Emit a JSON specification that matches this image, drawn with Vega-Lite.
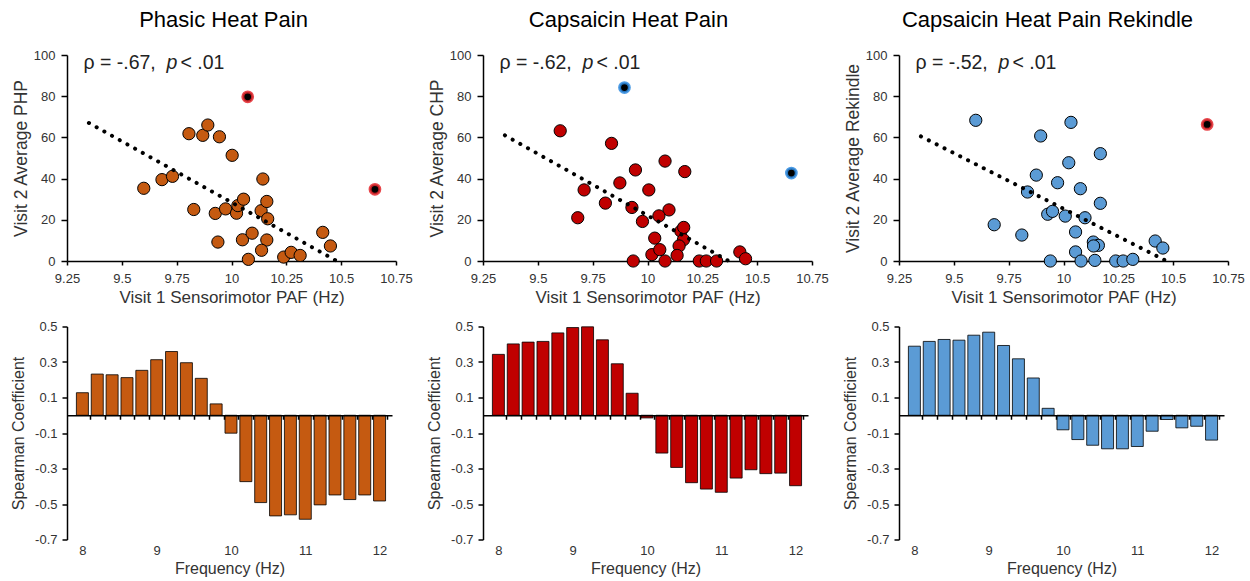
{
  "$schema": "https://vega.github.io/schema/vega-lite/v6.json",
  "background": "white",
  "padding": {"left": 10, "top": 8, "right": 5, "bottom": 5},
  "bounds": "flush",
  "columns": 3,
  "spacing": {"row": 65.5, "column": 87},
  "config": {
    "font": "Liberation Sans",
    "view": {"stroke": null},
    "axis": {"grid": false, "domainColor": "#000", "domainWidth": 1.5, "tickColor": "#000", "tickWidth": 1.5, "labelColor": "#333", "labelFontSize": 13, "titleColor": "#333", "titleFontWeight": "normal", "labelFlush": false, "labelOverlap": false},
    "title": {"fontSize": 22, "fontWeight": "normal", "color": "#000", "frame": "group", "anchor": "middle", "baseline": "alphabetic", "offset": 17.5}
  },
  "datasets": {
    "php": [
      {"paf": 9.60, "v": 35.3}, {"paf": 9.683, "v": 39.5}, {"paf": 9.731, "v": 41.1}, {"paf": 9.806, "v": 61.8}, {"paf": 9.869, "v": 61.0},
      {"paf": 9.892, "v": 66.0}, {"paf": 9.945, "v": 60.3}, {"paf": 10.003, "v": 51.3}, {"paf": 9.828, "v": 25.0}, {"paf": 9.926, "v": 23.1},
      {"paf": 9.938, "v": 9.2}, {"paf": 9.973, "v": 25.3}, {"paf": 10.023, "v": 23.2}, {"paf": 10.029, "v": 26.9}, {"paf": 10.055, "v": 30.0},
      {"paf": 10.050, "v": 10.3}, {"paf": 10.094, "v": 13.5}, {"paf": 10.077, "v": 0.8}, {"paf": 10.143, "v": 39.8}, {"paf": 10.135, "v": 24.4},
      {"paf": 10.161, "v": 28.9}, {"paf": 10.165, "v": 20.5}, {"paf": 10.161, "v": 10.2}, {"paf": 10.137, "v": 5.2}, {"paf": 10.238, "v": 1.9},
      {"paf": 10.272, "v": 4.2}, {"paf": 10.313, "v": 2.7}, {"paf": 10.416, "v": 13.9}, {"paf": 10.451, "v": 7.3}
    ],
    "php_out": [{"paf": 10.074, "v": 79.7}, {"paf": 10.654, "v": 34.8}],
    "php_fit": [{"paf": 9.35, "v": 67}, {"paf": 10.48, "v": 0}],
    "chp": [
      {"paf": 9.602, "v": 63.2}, {"paf": 9.836, "v": 57.1}, {"paf": 9.682, "v": 21.0}, {"paf": 9.711, "v": 34.5}, {"paf": 9.808, "v": 28.1},
      {"paf": 9.874, "v": 37.9}, {"paf": 9.945, "v": 44.2}, {"paf": 9.929, "v": 26.0}, {"paf": 9.977, "v": 19.2}, {"paf": 10.006, "v": 34.5},
      {"paf": 10.080, "v": 48.5}, {"paf": 10.098, "v": 24.8}, {"paf": 10.052, "v": 21.9}, {"paf": 10.033, "v": 11.1}, {"paf": 10.020, "v": 3.1},
      {"paf": 10.056, "v": 5.5}, {"paf": 9.935, "v": 0}, {"paf": 10.080, "v": 0}, {"paf": 10.170, "v": 43.4}, {"paf": 10.152, "v": 14.5},
      {"paf": 10.165, "v": 16.3}, {"paf": 10.164, "v": 10.3}, {"paf": 10.144, "v": 7.3}, {"paf": 10.135, "v": 2.7}, {"paf": 10.236, "v": 0},
      {"paf": 10.268, "v": 0}, {"paf": 10.315, "v": 0}, {"paf": 10.421, "v": 4.4}, {"paf": 10.447, "v": 1.1}
    ],
    "chp_out": [{"paf": 9.895, "v": 84.2}, {"paf": 10.656, "v": 42.7}],
    "chp_fit": [{"paf": 9.35, "v": 61}, {"paf": 10.37, "v": 0}],
    "rek": [
      {"paf": 9.60, "v": 68.3}, {"paf": 9.684, "v": 17.6}, {"paf": 9.810, "v": 12.6}, {"paf": 9.836, "v": 33.5}, {"paf": 9.876, "v": 41.7},
      {"paf": 9.896, "v": 60.7}, {"paf": 9.928, "v": 22.7}, {"paf": 9.950, "v": 24.1}, {"paf": 9.973, "v": 38.0}, {"paf": 10.008, "v": 21.8},
      {"paf": 10.024, "v": 47.7}, {"paf": 10.034, "v": 67.3}, {"paf": 10.077, "v": 35.1}, {"paf": 10.098, "v": 21.0}, {"paf": 10.055, "v": 14.1},
      {"paf": 10.055, "v": 4.4}, {"paf": 9.940, "v": 0}, {"paf": 10.080, "v": 0}, {"paf": 10.168, "v": 52.1}, {"paf": 10.168, "v": 28.0},
      {"paf": 10.136, "v": 9.2}, {"paf": 10.159, "v": 7.6}, {"paf": 10.137, "v": 7.3}, {"paf": 10.143, "v": 0.3}, {"paf": 10.238, "v": 0},
      {"paf": 10.272, "v": 0}, {"paf": 10.316, "v": 0.8}, {"paf": 10.418, "v": 9.7}, {"paf": 10.453, "v": 6.3}
    ],
    "rek_out": [{"paf": 10.655, "v": 66.3}],
    "rek_fit": [{"paf": 9.35, "v": 60.5}, {"paf": 10.47, "v": 0}],
    "php_bars": [
      {"f": 8.0, "r": 0.127}, {"f": 8.2, "r": 0.232}, {"f": 8.4, "r": 0.228}, {"f": 8.6, "r": 0.212}, {"f": 8.8, "r": 0.253},
      {"f": 9.0, "r": 0.313}, {"f": 9.2, "r": 0.359}, {"f": 9.4, "r": 0.296}, {"f": 9.6, "r": 0.208}, {"f": 9.8, "r": 0.064},
      {"f": 10.0, "r": -0.101}, {"f": 10.2, "r": -0.374}, {"f": 10.4, "r": -0.492}, {"f": 10.6, "r": -0.567}, {"f": 10.8, "r": -0.561},
      {"f": 11.0, "r": -0.586}, {"f": 11.2, "r": -0.505}, {"f": 11.4, "r": -0.449}, {"f": 11.6, "r": -0.475}, {"f": 11.8, "r": -0.449},
      {"f": 12.0, "r": -0.483}
    ],
    "chp_bars": [
      {"f": 8.0, "r": 0.343}, {"f": 8.2, "r": 0.402}, {"f": 8.4, "r": 0.412}, {"f": 8.6, "r": 0.416}, {"f": 8.8, "r": 0.464},
      {"f": 9.0, "r": 0.494}, {"f": 9.2, "r": 0.498}, {"f": 9.4, "r": 0.425}, {"f": 9.6, "r": 0.290}, {"f": 9.8, "r": 0.124},
      {"f": 10.0, "r": -0.015}, {"f": 10.2, "r": -0.213}, {"f": 10.4, "r": -0.294}, {"f": 10.6, "r": -0.380}, {"f": 10.8, "r": -0.416},
      {"f": 11.0, "r": -0.434}, {"f": 11.2, "r": -0.354}, {"f": 11.4, "r": -0.307}, {"f": 11.6, "r": -0.329}, {"f": 11.8, "r": -0.326},
      {"f": 12.0, "r": -0.397}
    ],
    "rek_bars": [
      {"f": 8.0, "r": 0.389}, {"f": 8.2, "r": 0.416}, {"f": 8.4, "r": 0.427}, {"f": 8.6, "r": 0.423}, {"f": 8.8, "r": 0.451},
      {"f": 9.0, "r": 0.468}, {"f": 9.2, "r": 0.393}, {"f": 9.4, "r": 0.318}, {"f": 9.6, "r": 0.210}, {"f": 9.8, "r": 0.039},
      {"f": 10.0, "r": -0.082}, {"f": 10.2, "r": -0.137}, {"f": 10.4, "r": -0.169}, {"f": 10.6, "r": -0.189}, {"f": 10.8, "r": -0.189},
      {"f": 11.0, "r": -0.176}, {"f": 11.2, "r": -0.090}, {"f": 11.4, "r": -0.024}, {"f": 11.6, "r": -0.071}, {"f": 11.8, "r": -0.062},
      {"f": 12.0, "r": -0.140}
    ]
  },
  "concat": [
    {
      "width": 329, "height": 206,
      "title": {"text": "Phasic Heat Pain", "dx": -8},
      "layer": [
        {"data": {"name": "php"}, "mark": {"type": "circle", "size": 150, "fill": "#C55A11", "opacity": 1, "stroke": "#000", "strokeWidth": 1},
         "encoding": {
          "x": {"field": "paf", "type": "quantitative", "scale": {"domain": [9.25, 10.75], "nice": false, "zero": false},
                "axis": {"title": "Visit 1 Sensorimotor PAF (Hz)", "values": [9.25, 9.5, 9.75, 10, 10.25, 10.5, 10.75], "labelExpr": "format(datum.value, '.2~f')", "tickSize": 4, "labelPadding": 7, "titleFontSize": 17, "titlePadding": 4}},
          "y": {"field": "v", "type": "quantitative", "scale": {"domain": [0, 100], "nice": false},
                "axis": {"title": "Visit 2 Average PHP", "values": [0, 20, 40, 60, 80, 100], "tickSize": 6, "labelPadding": 6, "titleFontSize": 17.5, "titlePadding": 3}}}},
        {"data": {"name": "php_out"}, "mark": {"type": "circle", "size": 95, "fill": "#000", "opacity": 1, "stroke": "#E3262B", "strokeWidth": 3, "strokeOpacity": 0.85},
         "encoding": {"x": {"field": "paf", "type": "quantitative"}, "y": {"field": "v", "type": "quantitative"}}},
        {"data": {"name": "php_fit"}, "mark": {"type": "line", "color": "#000", "strokeWidth": 4, "strokeDash": [0.1, 8.7], "strokeCap": "round"},
         "encoding": {"x": {"field": "paf", "type": "quantitative"}, "y": {"field": "v", "type": "quantitative"}}},
        {"data": {"values": [{}]}, "mark": {"type": "text", "text": "ρ = -.67,", "align": "left", "baseline": "alphabetic", "fontSize": 19.5, "color": "#222"}, "encoding": {"x": {"datum": 9.325}, "y": {"datum": 93}}},
        {"data": {"values": [{}]}, "mark": {"type": "text", "text": "p", "fontStyle": "italic", "align": "left", "baseline": "alphabetic", "fontSize": 19.5, "color": "#222", "dx": 83}, "encoding": {"x": {"datum": 9.325}, "y": {"datum": 93}}},
        {"data": {"values": [{}]}, "mark": {"type": "text", "text": "< .01", "align": "left", "baseline": "alphabetic", "fontSize": 19.5, "color": "#222", "dx": 97}, "encoding": {"x": {"datum": 9.325}, "y": {"datum": 93}}}
      ]
    },
    {
      "width": 329, "height": 206,
      "title": {"text": "Capsaicin Heat Pain", "dx": -19},
      "layer": [
        {"data": {"name": "chp"}, "mark": {"type": "circle", "size": 150, "fill": "#C00000", "opacity": 1, "stroke": "#000", "strokeWidth": 1},
         "encoding": {
          "x": {"field": "paf", "type": "quantitative", "scale": {"domain": [9.25, 10.75], "nice": false, "zero": false},
                "axis": {"title": "Visit 1 Sensorimotor PAF (Hz)", "values": [9.25, 9.5, 9.75, 10, 10.25, 10.5, 10.75], "labelExpr": "format(datum.value, '.2~f')", "tickSize": 4, "labelPadding": 7, "titleFontSize": 17, "titlePadding": 4}},
          "y": {"field": "v", "type": "quantitative", "scale": {"domain": [0, 100], "nice": false},
                "axis": {"title": "Visit 2 Average CHP", "values": [0, 20, 40, 60, 80, 100], "tickSize": 6, "labelPadding": 6, "titleFontSize": 17.5, "titlePadding": 3}}}},
        {"data": {"name": "chp_out"}, "mark": {"type": "circle", "size": 95, "fill": "#000", "opacity": 1, "stroke": "#2E8BE0", "strokeWidth": 3, "strokeOpacity": 0.85},
         "encoding": {"x": {"field": "paf", "type": "quantitative"}, "y": {"field": "v", "type": "quantitative"}}},
        {"data": {"name": "chp_fit"}, "mark": {"type": "line", "color": "#000", "strokeWidth": 4, "strokeDash": [0.1, 8.7], "strokeCap": "round"},
         "encoding": {"x": {"field": "paf", "type": "quantitative"}, "y": {"field": "v", "type": "quantitative"}}},
        {"data": {"values": [{}]}, "mark": {"type": "text", "text": "ρ = -.62,", "align": "left", "baseline": "alphabetic", "fontSize": 19.5, "color": "#222"}, "encoding": {"x": {"datum": 9.325}, "y": {"datum": 93}}},
        {"data": {"values": [{}]}, "mark": {"type": "text", "text": "p", "fontStyle": "italic", "align": "left", "baseline": "alphabetic", "fontSize": 19.5, "color": "#222", "dx": 83}, "encoding": {"x": {"datum": 9.325}, "y": {"datum": 93}}},
        {"data": {"values": [{}]}, "mark": {"type": "text", "text": "< .01", "align": "left", "baseline": "alphabetic", "fontSize": 19.5, "color": "#222", "dx": 97}, "encoding": {"x": {"datum": 9.325}, "y": {"datum": 93}}}
      ]
    },
    {
      "width": 329, "height": 206,
      "title": {"text": "Capsaicin Heat Pain Rekindle", "dx": -16},
      "layer": [
        {"data": {"name": "rek"}, "mark": {"type": "circle", "size": 150, "fill": "#5B9BD5", "opacity": 1, "stroke": "#000", "strokeWidth": 1},
         "encoding": {
          "x": {"field": "paf", "type": "quantitative", "scale": {"domain": [9.25, 10.75], "nice": false, "zero": false},
                "axis": {"title": "Visit 1 Sensorimotor PAF (Hz)", "values": [9.25, 9.5, 9.75, 10, 10.25, 10.5, 10.75], "labelExpr": "format(datum.value, '.2~f')", "tickSize": 4, "labelPadding": 7, "titleFontSize": 17, "titlePadding": 4}},
          "y": {"field": "v", "type": "quantitative", "scale": {"domain": [0, 100], "nice": false},
                "axis": {"title": "Visit 2 Average Rekindle", "values": [0, 20, 40, 60, 80, 100], "tickSize": 6, "labelPadding": 6, "titleFontSize": 17.5, "titlePadding": 3}}}},
        {"data": {"name": "rek_out"}, "mark": {"type": "circle", "size": 95, "fill": "#000", "opacity": 1, "stroke": "#E3262B", "strokeWidth": 3, "strokeOpacity": 0.85},
         "encoding": {"x": {"field": "paf", "type": "quantitative"}, "y": {"field": "v", "type": "quantitative"}}},
        {"data": {"name": "rek_fit"}, "mark": {"type": "line", "color": "#000", "strokeWidth": 4, "strokeDash": [0.1, 8.7], "strokeCap": "round"},
         "encoding": {"x": {"field": "paf", "type": "quantitative"}, "y": {"field": "v", "type": "quantitative"}}},
        {"data": {"values": [{}]}, "mark": {"type": "text", "text": "ρ = -.52,", "align": "left", "baseline": "alphabetic", "fontSize": 19.5, "color": "#222"}, "encoding": {"x": {"datum": 9.325}, "y": {"datum": 93}}},
        {"data": {"values": [{}]}, "mark": {"type": "text", "text": "p", "fontStyle": "italic", "align": "left", "baseline": "alphabetic", "fontSize": 19.5, "color": "#222", "dx": 83}, "encoding": {"x": {"datum": 9.325}, "y": {"datum": 93}}},
        {"data": {"values": [{}]}, "mark": {"type": "text", "text": "< .01", "align": "left", "baseline": "alphabetic", "fontSize": 19.5, "color": "#222", "dx": 97}, "encoding": {"x": {"datum": 9.325}, "y": {"datum": 93}}}
      ]
    },
    {
      "width": 325, "height": 213,
      "encoding": {
        "y": {"field": "r", "type": "quantitative", "scale": {"domain": [-0.7, 0.5], "nice": false, "zero": false},
              "axis": {"title": "Spearman Coefficient", "values": [-0.7, -0.5, -0.3, -0.1, 0.1, 0.3, 0.5], "labelExpr": "datum.value < 0 ? '-' + format(-datum.value, '.1f') : format(datum.value, '.1f')", "tickSize": 5, "labelPadding": 5, "titleFontSize": 16, "titlePadding": 8}}
      },
      "layer": [
        {"data": {"name": "php_bars"}, "mark": {"type": "bar", "width": 12, "fill": "#C55A11", "stroke": "#000", "strokeWidth": 0.8},
         "encoding": {"x": {"field": "f", "type": "quantitative", "scale": {"domain": [7.86, 12.1], "nice": false, "zero": false},
                            "axis": {"orient": "bottom", "title": "Frequency (Hz)", "values": [8, 9, 10, 11, 12], "format": "d", "domain": false, "ticks": false, "tickSize": 0, "labelPadding": 5, "titleFontSize": 16, "titlePadding": 3}}}},
        {"data": {"values": [{}]}, "mark": {"type": "rule", "color": "#000", "strokeWidth": 1.5},
         "encoding": {"x": {"datum": 7.86, "type": "quantitative", "axis": {"orient": "bottom", "offset": -124.25, "values": [8.1, 8.3, 8.5, 8.7, 8.9, 9.1, 9.3, 9.5, 9.7, 9.9, 10.1, 10.3, 10.5, 10.7, 10.9, 11.1, 11.3, 11.5, 11.7, 11.9, 12.1], "labels": false, "title": null, "tickSize": 4, "zindex": 1}},
                      "x2": {"datum": 12.1}, "y": {"datum": 0}}}
      ],
      "resolve": {"axis": {"x": "independent"}}
    },
    {
      "width": 325, "height": 213,
      "encoding": {
        "y": {"field": "r", "type": "quantitative", "scale": {"domain": [-0.7, 0.5], "nice": false, "zero": false},
              "axis": {"title": "Spearman Coefficient", "values": [-0.7, -0.5, -0.3, -0.1, 0.1, 0.3, 0.5], "labelExpr": "datum.value < 0 ? '-' + format(-datum.value, '.1f') : format(datum.value, '.1f')", "tickSize": 5, "labelPadding": 5, "titleFontSize": 16, "titlePadding": 8}}
      },
      "layer": [
        {"data": {"name": "chp_bars"}, "mark": {"type": "bar", "width": 12, "fill": "#C00000", "stroke": "#000", "strokeWidth": 0.8},
         "encoding": {"x": {"field": "f", "type": "quantitative", "scale": {"domain": [7.86, 12.1], "nice": false, "zero": false},
                            "axis": {"orient": "bottom", "title": "Frequency (Hz)", "values": [8, 9, 10, 11, 12], "format": "d", "domain": false, "ticks": false, "tickSize": 0, "labelPadding": 5, "titleFontSize": 16, "titlePadding": 3}}}},
        {"data": {"values": [{}]}, "mark": {"type": "rule", "color": "#000", "strokeWidth": 1.5},
         "encoding": {"x": {"datum": 7.86, "type": "quantitative", "axis": {"orient": "bottom", "offset": -124.25, "values": [8.1, 8.3, 8.5, 8.7, 8.9, 9.1, 9.3, 9.5, 9.7, 9.9, 10.1, 10.3, 10.5, 10.7, 10.9, 11.1, 11.3, 11.5, 11.7, 11.9, 12.1], "labels": false, "title": null, "tickSize": 4, "zindex": 1}},
                      "x2": {"datum": 12.1}, "y": {"datum": 0}}}
      ],
      "resolve": {"axis": {"x": "independent"}}
    },
    {
      "width": 325, "height": 213,
      "encoding": {
        "y": {"field": "r", "type": "quantitative", "scale": {"domain": [-0.7, 0.5], "nice": false, "zero": false},
              "axis": {"title": "Spearman Coefficient", "values": [-0.7, -0.5, -0.3, -0.1, 0.1, 0.3, 0.5], "labelExpr": "datum.value < 0 ? '-' + format(-datum.value, '.1f') : format(datum.value, '.1f')", "tickSize": 5, "labelPadding": 5, "titleFontSize": 16, "titlePadding": 8}}
      },
      "layer": [
        {"data": {"name": "rek_bars"}, "mark": {"type": "bar", "width": 12, "fill": "#5B9BD5", "stroke": "#000", "strokeWidth": 0.8},
         "encoding": {"x": {"field": "f", "type": "quantitative", "scale": {"domain": [7.86, 12.1], "nice": false, "zero": false},
                            "axis": {"orient": "bottom", "title": "Frequency (Hz)", "values": [8, 9, 10, 11, 12], "format": "d", "domain": false, "ticks": false, "tickSize": 0, "labelPadding": 5, "titleFontSize": 16, "titlePadding": 3}}}},
        {"data": {"values": [{}]}, "mark": {"type": "rule", "color": "#000", "strokeWidth": 1.5},
         "encoding": {"x": {"datum": 7.86, "type": "quantitative", "axis": {"orient": "bottom", "offset": -124.25, "values": [8.1, 8.3, 8.5, 8.7, 8.9, 9.1, 9.3, 9.5, 9.7, 9.9, 10.1, 10.3, 10.5, 10.7, 10.9, 11.1, 11.3, 11.5, 11.7, 11.9, 12.1], "labels": false, "title": null, "tickSize": 4, "zindex": 1}},
                      "x2": {"datum": 12.1}, "y": {"datum": 0}}}
      ],
      "resolve": {"axis": {"x": "independent"}}
    }
  ]
}
